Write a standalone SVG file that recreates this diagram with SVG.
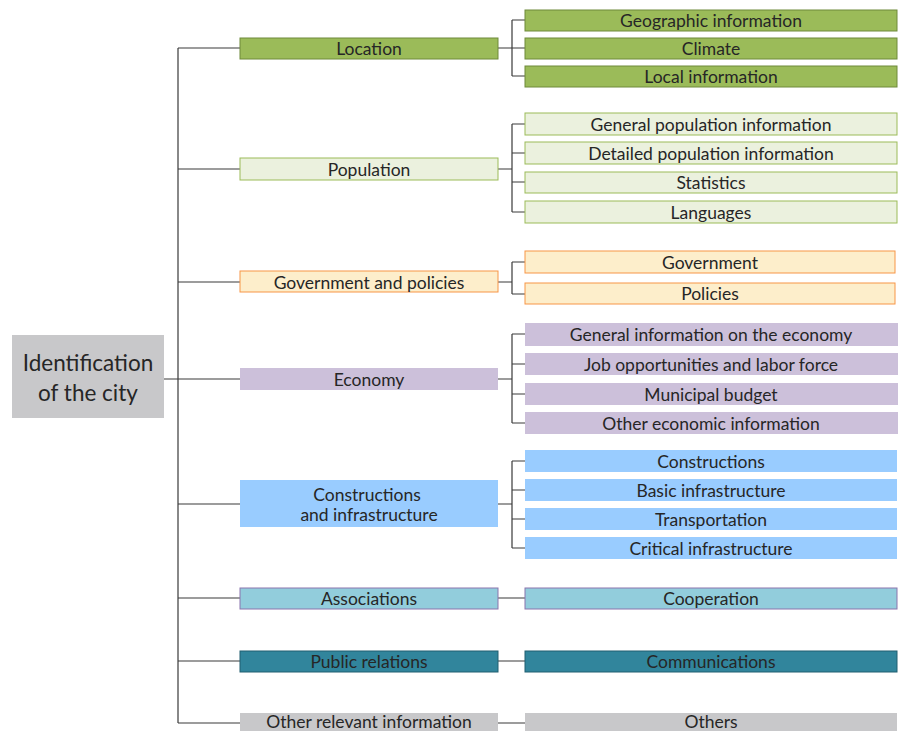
<svg xmlns="http://www.w3.org/2000/svg" width="900" height="731" viewBox="0 0 900 731">
  <style>
    text { font-family: Lato, "Open Sans", "Liberation Sans", sans-serif; fill: #262626; text-anchor: middle; dominant-baseline: central; }
    .t1 { font-size: 17.5px; }
    .t2 { font-size: 17.5px; }
    .root { font-size: 22.5px; }
    .links path { fill: none; stroke: #3a3a3a; stroke-width: 1.2; }
    .green rect { fill: #9bbb59; stroke: #6e8a3b; stroke-width: 1; }
    .pale rect { fill: #ebf1de; stroke: #9bbb59; stroke-width: 1; }
    .orange rect { fill: #fdeecb; stroke: #f79646; stroke-width: 1; }
    .lilac rect { fill: #ccc0da; }
    .blue rect { fill: #99ccff; }
    .aqua rect { fill: #92cddc; stroke: #8a75ad; stroke-width: 1; }
    .teal rect { fill: #31859c; stroke: #215f70; stroke-width: 1; }
    .grey rect { fill: #c8c8ca; }
  </style>

  <!-- connectors -->
  <g class="links">
    <path d="M164 379H178M178 48V723"/>
    <path d="M178 48H240M178 169H240M178 282H240M178 379H240M178 504H240M178 598H240M178 661H240M178 723H240"/>
    <path d="M498 48H512M512 20V76M512 20H525M512 48H525M512 76H525"/>
    <path d="M498 169H512M512 124V212M512 124H525M512 153H525M512 182H525M512 212H525"/>
    <path d="M498 282H512M512 262V294M512 262H525M512 294H525"/>
    <path d="M498 379H512M512 334V423M512 334H525M512 364H525M512 394H525M512 423H525"/>
    <path d="M498 504H512M512 461V548M512 461H525M512 490H525M512 519H525M512 548H525"/>
    <path d="M498 598H525M498 661H525M498 723H525"/>
  </g>

  <!-- root -->
  <g id="root" class="grey">
    <rect x="12" y="335" width="152" height="83"/>
    <text class="root" x="88" y="362">Identification</text>
    <text class="root" x="88" y="392">of the city</text>
  </g>

  <!-- location -->
  <g id="location" class="green">
    <rect x="240" y="38" width="258" height="21"/>
    <text class="t1" x="369" y="48.5">Location</text>
  </g>
  <g id="geographic" class="green">
    <rect x="525" y="10" width="372" height="21"/>
    <text class="t2" x="711" y="20.5">Geographic information</text>
  </g>
  <g id="climate" class="green">
    <rect x="525" y="38" width="372" height="21"/>
    <text class="t2" x="711" y="48.5">Climate</text>
  </g>
  <g id="local" class="green">
    <rect x="525" y="66" width="372" height="21"/>
    <text class="t2" x="711" y="76.5">Local information</text>
  </g>

  <!-- population -->
  <g id="population" class="pale">
    <rect x="240" y="158" width="258" height="22"/>
    <text class="t1" x="369" y="169">Population</text>
  </g>
  <g id="general-population" class="pale">
    <rect x="525" y="113" width="372" height="22"/>
    <text class="t2" x="711" y="124">General population information</text>
  </g>
  <g id="detailed-population" class="pale">
    <rect x="525" y="142" width="372" height="22"/>
    <text class="t2" x="711" y="153">Detailed population information</text>
  </g>
  <g id="statistics" class="pale">
    <rect x="525" y="172" width="372" height="21"/>
    <text class="t2" x="711" y="182.5">Statistics</text>
  </g>
  <g id="languages" class="pale">
    <rect x="525" y="201" width="372" height="22"/>
    <text class="t2" x="711" y="212">Languages</text>
  </g>

  <!-- government -->
  <g id="government-policies" class="orange">
    <rect x="240" y="271" width="258" height="21"/>
    <text class="t1" x="369" y="282">Government and policies</text>
  </g>
  <g id="government" class="orange">
    <rect x="525" y="251" width="370" height="22"/>
    <text class="t2" x="710" y="262">Government</text>
  </g>
  <g id="policies" class="orange">
    <rect x="525" y="283" width="370" height="21"/>
    <text class="t2" x="710" y="293.5">Policies</text>
  </g>

  <!-- economy -->
  <g id="economy" class="lilac">
    <rect x="240" y="368" width="258" height="22"/>
    <text class="t1" x="369" y="379">Economy</text>
  </g>
  <g id="economy-general" class="lilac">
    <rect x="525" y="323" width="373" height="23"/>
    <text class="t2" x="711" y="334.5">General information on the economy</text>
  </g>
  <g id="jobs" class="lilac">
    <rect x="525" y="353" width="373" height="22"/>
    <text class="t2" x="711" y="364">Job opportunities and labor force</text>
  </g>
  <g id="budget" class="lilac">
    <rect x="525" y="383" width="373" height="22"/>
    <text class="t2" x="711" y="394">Municipal budget</text>
  </g>
  <g id="economy-other" class="lilac">
    <rect x="525" y="412" width="373" height="22"/>
    <text class="t2" x="711" y="423">Other economic information</text>
  </g>

  <!-- constructions -->
  <g id="constructions-infrastructure" class="blue">
    <rect x="240" y="480" width="258" height="47"/>
    <text class="t1" x="367" y="494.5">Constructions</text>
    <text class="t1" x="369" y="514">and infrastructure</text>
  </g>
  <g id="constructions" class="blue">
    <rect x="525" y="450" width="372" height="22"/>
    <text class="t2" x="711" y="461">Constructions</text>
  </g>
  <g id="basic-infrastructure" class="blue">
    <rect x="525" y="479" width="372" height="22"/>
    <text class="t2" x="711" y="490">Basic infrastructure</text>
  </g>
  <g id="transportation" class="blue">
    <rect x="525" y="508" width="372" height="22"/>
    <text class="t2" x="711" y="519">Transportation</text>
  </g>
  <g id="critical-infrastructure" class="blue">
    <rect x="525" y="537" width="372" height="22"/>
    <text class="t2" x="711" y="548">Critical infrastructure</text>
  </g>

  <!-- associations -->
  <g id="associations" class="aqua">
    <rect x="240" y="588" width="258" height="21"/>
    <text class="t1" x="369" y="598.5">Associations</text>
  </g>
  <g id="cooperation" class="aqua">
    <rect x="525" y="588" width="372" height="21"/>
    <text class="t2" x="711" y="598.5">Cooperation</text>
  </g>

  <!-- public relations -->
  <g id="public-relations" class="teal">
    <rect x="240" y="651" width="258" height="21"/>
    <text class="t1" x="369" y="661.5">Public relations</text>
  </g>
  <g id="communications" class="teal">
    <rect x="525" y="651" width="372" height="21"/>
    <text class="t2" x="711" y="661.5">Communications</text>
  </g>

  <!-- other -->
  <g id="other-relevant" class="grey">
    <rect x="240" y="713" width="258" height="21"/>
    <text class="t1" x="369" y="721.5">Other relevant information</text>
  </g>
  <g id="others" class="grey">
    <rect x="525" y="713" width="372" height="21"/>
    <text class="t2" x="711" y="721.5">Others</text>
  </g>
</svg>
